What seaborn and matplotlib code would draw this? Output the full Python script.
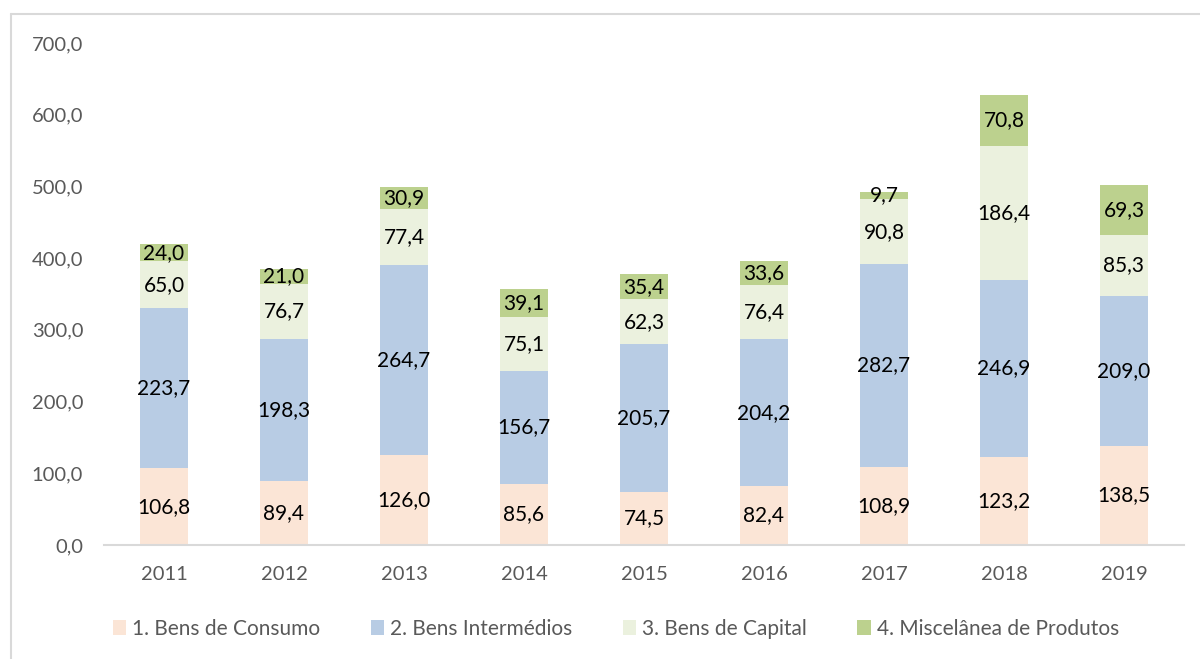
import matplotlib
matplotlib.use("Agg")
import matplotlib.pyplot as plt
import seaborn as sns
import pandas as pd
import numpy as np
from matplotlib.patches import Patch
from matplotlib.lines import Line2D

years = ["2011", "2012", "2013", "2014", "2015", "2016", "2017", "2018", "2019"]
consumo = [106.8, 89.4, 126.0, 85.6, 74.5, 82.4, 108.9, 123.2, 138.5]
intermedios = [223.7, 198.3, 264.7, 156.7, 205.7, 204.2, 282.7, 246.9, 209.0]
capital = [65.0, 76.7, 77.4, 75.1, 62.3, 76.4, 90.8, 186.4, 85.3]
misc = [24.0, 21.0, 30.9, 39.1, 35.4, 33.6, 9.7, 70.8, 69.3]
series_names = ["1. Bens de Consumo", "2. Bens Intermédios", "3. Bens de Capital",
                "4. Miscelânea de Produtos"]
colors = ["#FBE5D6", "#B8CCE4", "#EBF1DE", "#BCD18E"]
yticks = [0, 100, 200, 300, 400, 500, 600, 700]

sns.set_theme(style="white")
plt.rcParams["font.family"] = ["Lato", "DejaVu Sans"]

series = [consumo, intermedios, capital, misc]
cum = np.zeros(len(years))
cums = []
for s in series:
    cum = cum + np.array(s)
    cums.append(cum.copy())

fig = plt.figure(figsize=(12, 6.59), dpi=100)
ax = fig.add_axes([104 / 1200, 1 - 545 / 659, (1184 - 104) / 1200, (545 - 43) / 659])

for k in range(3, -1, -1):
    d = pd.DataFrame({"year": years, "val": cums[k]})
    sns.barplot(data=d, x="year", y="val", color=colors[k], saturation=1,
                width=0.4, ax=ax, linewidth=0, errorbar=None)

# data labels
for k, s in enumerate(series):
    base = cums[k] - np.array(s)
    for i, v in enumerate(s):
        ax.text(i, base[i] + v / 2, f"{v:.1f}".replace(".", ","), ha="center",
                va="center", fontsize=15, color="#000000")

ax.set_ylim(0, 700)
ax.set_xlim(-0.5, len(years) - 0.5)
ax.set_yticks(yticks)
ax.set_yticklabels([f"{t:.1f}".replace(".", ",") for t in yticks])
ax.set_xlabel("")
ax.set_ylabel("")
ax.tick_params(axis="y", length=0, pad=15, labelsize=14.5, labelcolor="#595959")
ax.tick_params(axis="x", length=0, pad=15, labelsize=14.5, labelcolor="#595959")
for sp in ["top", "right", "left"]:
    ax.spines[sp].set_visible(False)
ax.spines["bottom"].set_color("#D9D9D9")
ax.spines["bottom"].set_linewidth(1.5)
ax.grid(False)

handles = [Patch(facecolor=c, edgecolor="none") for c in colors]
leg = fig.legend(handles, series_names, loc="center", bbox_to_anchor=(616 / 1200, 1 - 629 / 659),
                 ncol=4, frameon=False, fontsize=15, handlelength=0.65, handleheight=0.75,
                 handletextpad=0.3, columnspacing=2.4, labelcolor="#595959")

# figure border (chart frame, partially cropped)
x0 = 10.5 / 1200
y0 = 1 - 13.5 / 659
fig.add_artist(Line2D([x0, 1.0], [y0, y0], transform=fig.transFigure, color="#D9D9D9", lw=1.5))
fig.add_artist(Line2D([x0, x0], [0, y0], transform=fig.transFigure, color="#D9D9D9", lw=1.5))

fig.savefig("out.png", dpi=100)
